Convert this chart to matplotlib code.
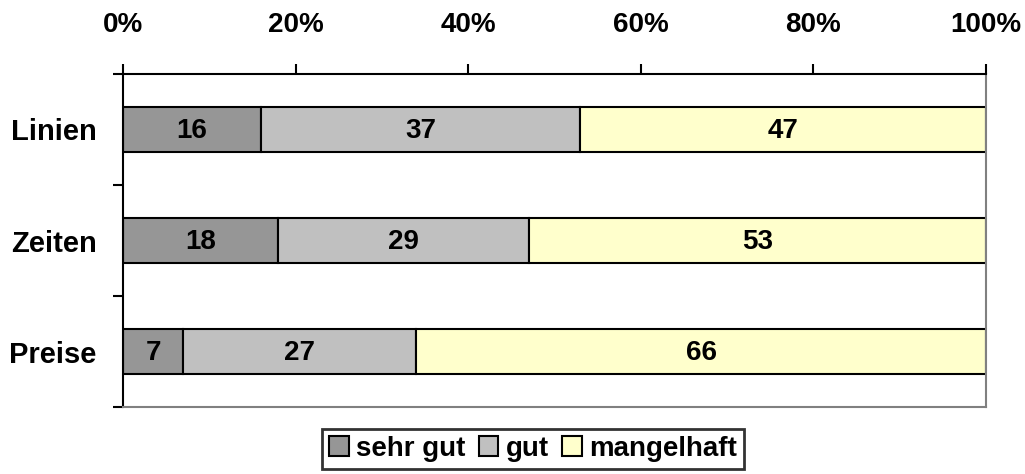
import matplotlib.pyplot as plt
import numpy as np

categories = ['Linien', 'Zeiten', 'Preise']
series = ['sehr gut', 'gut', 'mangelhaft']
sehr_gut = [16, 18, 7]
gut = [37, 29, 27]
mangelhaft = [47, 53, 66]
colors = ['#969696', '#c0c0c0', '#ffffcc']
tick_labels = ['0%', '20%', '40%', '60%', '80%', '100%']

plt.rcParams['font.family'] = ['Liberation Sans', 'DejaVu Sans']
plt.rcParams['font.weight'] = 'bold'

fig = plt.figure(figsize=(10.25, 4.74), dpi=100)
ax = fig.add_axes([0.12, 0.141, 0.842, 0.703])

y = np.arange(len(categories))
left = np.zeros(len(categories))
handles = []
for name, vals, col in zip(series, [sehr_gut, gut, mangelhaft], colors):
    vals = np.array(vals, dtype=float)
    b = ax.barh(y, vals, left=left, height=0.4, color=col,
                edgecolor='black', linewidth=1.5, label=name)
    for yi, l, v in zip(y, left, vals):
        ax.text(l + v / 2, yi + 0.01, f'{int(v)}', ha='center', va='center',
                fontsize=20, fontweight='bold')
    left += vals
    handles.append(b)

ax.set_xlim(0, 100)
ax.set_ylim(len(categories) - 0.5, -0.5)
ax.xaxis.tick_top()
ax.set_xticks(np.linspace(0, 100, 6))
ax.set_xticklabels(tick_labels, fontsize=20, fontweight='bold')
ax.tick_params(axis='x', which='major', length=7, width=1.5, pad=19,
               direction='out')
ax.set_yticks(y)
ax.set_yticklabels(categories, fontsize=21, fontweight='bold')
ax.tick_params(axis='y', which='major', length=0, pad=19)
ax.set_yticks(np.arange(-0.5, len(categories)), minor=True)
ax.tick_params(axis='y', which='minor', length=7, width=1.5, direction='out')

ax.spines['top'].set_linewidth(1.5)
ax.spines['left'].set_linewidth(1.5)
ax.spines['right'].set_color('#808080')
ax.spines['bottom'].set_color('#808080')
ax.spines['right'].set_linewidth(1.5)
ax.spines['bottom'].set_linewidth(1.5)

leg = fig.legend(handles=handles, loc='center', bbox_to_anchor=(0.52, 0.053),
                 ncol=3, frameon=True, fancybox=False, edgecolor='black',
                 fontsize=20, handlelength=0.7, handleheight=0.7,
                 handletextpad=0.25, columnspacing=0.5, borderpad=0.25,
                 borderaxespad=0)
leg.get_frame().set_linewidth(2)

fig.savefig('out.png', dpi=100)
